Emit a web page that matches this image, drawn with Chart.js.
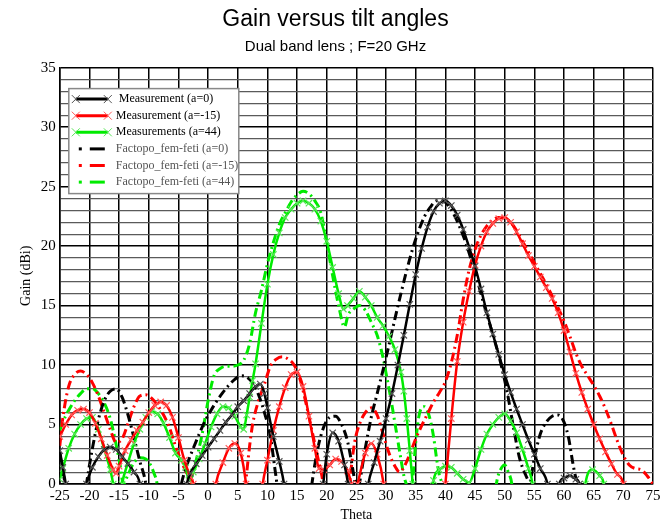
<!DOCTYPE html>
<html>
<head>
<meta charset="utf-8">
<script src="https://cdn.jsdelivr.net/npm/chart.js@4.4.1/dist/chart.umd.min.js"></script>
<style>
  body { margin: 0; background: #fff; }
</style>
</head>
<body>
<canvas id="chart" width="669" height="520"></canvas>
<script>
// Values (theta in degrees, gain in dBi).
// Negative gains just push the curve under the axis, where it gets clipped.

const measA0Theta = [-25, -24.5, -24, -23.3, -21.5, -20.5, -19.5, -18.5, -17.5, -16.5, -15.5, -14.5, -13.5, -12.5, -11.5, -10.8,
  -4.6, -3.6, -3, -2, -1, 0, 1, 2, 3, 4, 5, 6, 7, 8, 8.8, 9.5, 10, 11, 12, 12.8, 13.5,
  18.5, 19.4, 20, 21, 22, 23, 23.6, 24.3,
  26.2, 27, 28, 29, 30, 31, 32, 33, 34, 35, 36, 37, 38, 39, 40, 41, 42, 43, 44, 45, 46, 47, 48, 49, 50, 51, 52, 53, 54, 55, 56, 57.2, 58,
  58.5, 59.2, 60, 61, 62, 62.6, 63.3];
const measA0Gain = [2.8, 1.4, 0, -3, -3, 0, 1.4, 2.3, 2.9, 3.1, 2.9, 2.3, 1.7, 1.0, 0, -3,
  -3, 0, 0.9, 1.7, 2.4, 3.1, 3.8, 4.5, 5.2, 5.8, 6.5, 7.0, 7.6, 8.2, 8.4, 7.6, 6.4, 4.0, 1.9, 0, -3,
  -3, 0, 2.5, 4.3, 3.6, 1.6, 0, -3,
  -3, 0, 1.8, 3.6, 5.5, 7.6, 10, 12.5, 15.1, 17.6, 19.8, 21.6, 22.9, 23.6, 23.8, 23.4, 22.6, 21.4, 19.9, 18.3, 16.4, 14.4, 12.6, 10.9, 9.2, 7.7, 6.3, 5.0, 3.7, 2.5, 1.3, 0, -3,
  -3, 0, 0.5, 0.7, 0.4, 0, -3];

const measAm15Theta = [-25, -24, -23, -22, -21, -20, -19, -18, -17, -16, -15.5, -15, -14, -13, -12, -11, -10, -9, -8, -7, -6, -5, -4, -3, -2.5, -2,
  0.5, 1.3, 2.5, 3.5, 4.5, 5.5, 6.4, 7,
  8.5, 9.2, 10, 11, 12, 13, 14, 15, 16, 17, 18, 18.7, 19.5, 20.5, 21.5, 22.5, 23.5, 24.2, 24.7, 25.2, 26.5, 27.5, 28.5, 29.6, 30.2,
  39.4, 40, 41, 42, 43, 44, 45, 46, 47, 48, 49, 50, 51, 52, 53, 54, 55, 56, 57, 58, 59, 60, 61, 62, 63, 64, 65, 66, 67, 68, 69, 70, 70.5];
const measAm15Gain = [4.0, 5.0, 5.8, 6.2, 6.3, 6.0, 5.1, 3.8, 2.4, 1.2, 0.9, 1.5, 2.8, 3.7, 4.5, 5.2, 6.0, 6.6, 6.9, 6.6, 5.6, 3.9, 2.0, 0.6, 0, -3,
  -3, 0, 1.8, 3.0, 3.4, 2.6, 0, -3,
  -3, 0, 2, 4.5, 6.5, 8.1, 9.2, 9.4, 8.2, 5.7, 3, 1.3, 1.2, 1.6, 2.1, 1.9, 1.1, 0, -1, 0, 2.6, 3.4, 2.5, 0, -3,
  -3, 0, 5.5, 10.3, 13.6, 16.2, 18.4, 20, 21.2, 21.9, 22.3, 22.4, 22, 21.2, 20.2, 19.2, 18.3, 17.4, 16.5, 15.6, 14.4, 12.9, 11.1, 9.3, 7.7, 6.3, 5, 3.8, 2.7, 1.7, 0.8, 0, -3];

const measA44Theta = [-25, -24.5, -23.5, -22.5, -21.5, -20.5, -19.5, -18.5, -17.5, -16.5, -16, -15.5, -15, -14.5, -13.5, -12.5, -11.5, -10.5, -9.5, -8.5, -7.5, -6.5, -5.5, -4.5, -3.8, -3.2,
  -2.5, -1.5, -0.5, 0.5, 1.5, 2.5, 3.5, 4.5, 5.5, 6, 6.5, 7, 7.5, 8, 9, 10, 11, 12, 13, 14, 15, 16, 17, 18, 19, 20, 21, 22, 22.8,
  23.5, 24.5, 25.5, 26.5, 27.5, 28.5, 29.5, 30.5, 31.5, 32.5, 33, 33.5, 34, 34.5, 35,
  37.4, 38, 39, 40, 41, 42, 43, 44, 45, 46, 47, 48, 49, 50, 51, 52, 53, 54, 54.7, 55.3,
  63, 63.6, 64.8, 66, 66.7, 67.3];
const measA44Gain = [0.4, 1.3, 3, 4.2, 5, 5.5, 5.6, 4.6, 2.9, 1.2, 0, -2, -2, 0, 1.8, 3.4, 4.6, 5.6, 6.1, 5.9, 5.1, 3.9, 2.6, 2.0, 1.4, 0.3,
  1.0, 2.1, 3.4, 4.8, 5.9, 6.5, 6.4, 5.7, 4.8, 4.6, 5.8, 7.3, 8.7, 10.1, 13.5, 16.8, 19.3, 21.1, 22.4, 23.1, 23.6, 23.8, 23.6, 23.1, 22.1, 20.4, 18.2, 16, 14.7,
  15, 15.6, 16.2, 15.7, 15, 14, 13.3, 12.4, 11.3, 9.4, 7.8, 5.5, 2.8, 0, -3,
  -3, 0.3, 1.2, 1.5, 1.4, 0.9, 0.4, 0.1, 1.3, 2.9, 4.2, 5, 5.6, 5.9, 5.3, 4.3, 2.9, 1.3, 0, -3,
  -3, 0, 1.2, 0.7, 0, -3];

const factA0Theta = [-25, -24.5, -24.1, -23.5, -21.3, -20.5, -19.5, -18.5, -17.5, -16.5, -15.5, -14.5, -13.5, -12.5, -11.5, -10.5, -9.8,
  -5.5, -4.5, -3.5, -2.5, -1.5, -0.5, 0.5, 1.5, 2.5, 3.5, 4.5, 5.5, 6.5, 7.5, 8.5, 9.5, 10.5, 11.2, 11.6, 12.2,
  16.8, 17.5, 18.5, 19.5, 20.5, 21.5, 22.5, 23.5, 24.3, 24.8, 25.1,
  25.5, 26.5, 27.5, 28.5, 29.5, 30.5, 31.5, 32.5, 33.5, 34.5, 35.5, 36.5, 37.5, 38.5, 39.5, 40.5, 41.5, 42.5, 43.5, 44.5, 45.5, 46.5, 47.5, 48.5, 49.5, 50.5, 51.5, 52.5, 53.5, 54.2,
  55, 56, 57, 58, 59, 60, 60.8, 61.4, 62, 62.4, 63];
const factA0Gain = [2.6, 1, 0, -3, -3, 0, 3, 5.4, 7, 7.8, 8, 7.3, 5.8, 3.9, 1.9, 0, -3,
  -3, 0, 1.7, 3, 4.2, 5.3, 6.2, 7, 7.7, 8.3, 8.8, 9.1, 9.0, 8.5, 7.5, 6.0, 4.0, 1.5, 0, -3,
  -3, 0, 3, 4.8, 5.6, 5.7, 5.0, 3.6, 1.5, 0, -1,
  0, 3, 5.6, 7.6, 9.6, 11.7, 13.9, 16, 18, 19.8, 21.3, 22.5, 23.3, 23.8, 23.8, 23.4, 22.6, 21.5, 20.2, 18.6, 16.9, 15.1, 13.4, 11.7, 9.8, 7.5, 4.7, 2.2, 0.8, 0.2,
  2.2, 4.2, 5.2, 5.7, 5.8, 5.2, 3.8, 2, 0.5, 0, -3];

const factAm15Theta = [-25, -24.5, -23.5, -22.5, -21.5, -20.5, -19.5, -18.5, -17.5, -16.5, -15.5, -14.5, -13.5, -12.5, -11.5, -10.5, -9.5, -8.5, -7.5, -6.5, -5.5, -4.5, -3.5, -2.8, -2.2,
  5.5, 6.3, 7, 7.5, 8.5, 9.5, 10.5, 11.5, 12.5, 13.5, 14.5, 15.5, 16.5, 17.5, 18.5, 19.4, 20,
  23, 23.8, 24.7, 25.5, 26.5, 27.5, 28.5, 29.5, 30.5, 31.5, 32.3, 33, 34, 35, 36, 37, 38, 39, 40, 41, 42, 43, 44, 45, 46, 47, 48, 49, 50,
  51, 52, 53, 54, 55, 56, 57, 58, 59, 60, 61, 62, 63, 64, 65, 66, 67, 68, 69, 70, 71, 72, 73, 74, 75];
const factAm15Gain = [3.2, 5.5, 8.2, 9.2, 9.5, 9.2, 8.5, 7.4, 6, 4.6, 3.5, 3.8, 5.1, 6.5, 7.4, 7.5, 7.2, 6.6, 5.8, 4.7, 3.2, 1.9, 0.8, 0, -3,
  -3, 0, 3.2, 5, 7, 8.4, 9.9, 10.5, 10.7, 10.5, 10, 8.8, 6.8, 4.5, 2.2, 0, -3,
  -3, 0, 3.5, 5, 6, 6.4, 5.8, 4.2, 2.6, 1.5, 1, 1.4, 2.5, 3.8, 4.9, 5.9, 6.9, 7.7, 8.6, 10.2, 12.5, 15.5, 18, 19.7, 20.9, 21.7, 22.2, 22.4, 22.3,
  22, 21.3, 20.4, 19.5, 18.6, 17.7, 16.8, 15.8, 14.8, 13.7, 12.4, 11, 9.9, 9.1, 8.3, 7.4, 6.3, 5, 3.6, 2.4, 1.6, 1.3, 1.2, 0.7, 0];

const factA44Theta = [-25, -24.5, -23.5, -22.5, -21.5, -20.5, -19.5, -18.5, -17.5, -16.5, -15.5, -14.8, -14.3,
  -13.5, -12.5, -11.5, -10.5, -9.7, -9.2, -8.6, -8,
  -3.8, -3, -2, -1, 0, 1, 2, 3, 4, 5, 6, 7, 8, 9, 10, 11, 12, 13, 14, 15, 16, 17, 18, 19, 20, 21, 22, 23,
  23.6, 24.5, 25.5, 26.5, 27.5, 28.5, 29.5, 30, 30.5, 31, 31.5, 32, 32.5, 33, 33.4, 34,
  34.5, 35, 35.5, 36, 36.5, 37, 37.5, 38, 38.5, 39, 39.4, 40,
  48, 48.6, 49.3, 50, 50.6, 51.2, 51.8];
const factA44Gain = [4.5, 5.2, 6.2, 7, 7.6, 8.0, 8.0, 7.6, 6.8, 5.5, 3.3, 1.5, 0,
  0.8, 1.8, 2.2, 2.1, 1.6, 1, 0, -3,
  -3, 0, 2, 4.2, 7, 9.1, 9.7, 9.9, 9.9, 10.0, 10.4, 11.8, 14.4, 16.3, 18.5, 20.3, 21.8, 22.8, 23.7, 24.3, 24.6, 24.4, 23.8, 22.8, 20.3, 17.5, 15, 13.2,
  14.2, 14.7, 15, 14.6, 13.6, 12.5, 10.6, 9.3, 8, 6.6, 5.1, 3.6, 2.1, 0.7, 0, -1,
  0.5, 3.5, 5.6, 6.4, 6.5, 6.1, 5.3, 4.0, 2.2, 0.7, 0, -3,
  -3, 0, 1.2, 1.6, 1, 0, -3];

const seriesLabels = ['Measurement (a=0)', 'Measurement (a=-15)', 'Measurements (a=44)',
  'Factopo_fem-feti (a=0)', 'Factopo_fem-feti (a=-15)', 'Factopo_fem-feti (a=44)'];

const BLACK = '#000000', RED = '#ff0000', GREEN = 'rgb(0,235,0)';
const DASHDOT = [9, 4, 2, 4];

function pts(t, g) {
  return t.map(function (v, i) { return { x: v, y: g[i] }; });
}

function measSet(label, t, g, color, markColor) {
  return {
    label: label,
    data: pts(t, g),
    borderColor: color,
    backgroundColor: color,
    borderWidth: 2.5,
    pointStyle: 'crossRot',
    pointRadius: 4.5,
    pointBorderWidth: 1.2,
    pointBorderColor: markColor,
    cubicInterpolationMode: 'monotone',
    kind: 'meas'
  };
}

function factSet(label, t, g, color) {
  return {
    label: label,
    data: pts(t, g),
    borderColor: color,
    backgroundColor: color,
    borderWidth: 3,
    borderDash: DASHDOT,
    pointRadius: 0,
    cubicInterpolationMode: 'monotone',
    kind: 'fact'
  };
}

const datasets = [
  measSet(seriesLabels[0], measA0Theta, measA0Gain, BLACK, '#555'),
  measSet(seriesLabels[1], measAm15Theta, measAm15Gain, RED, '#ff5a5a'),
  measSet(seriesLabels[2], measA44Theta, measA44Gain, GREEN, '#5ae65a'),
  factSet(seriesLabels[3], factA0Theta, factA0Gain, BLACK),
  factSet(seriesLabels[4], factAm15Theta, factAm15Gain, RED),
  factSet(seriesLabels[5], factA44Theta, factA44Gain, GREEN)
];

// legend box inside the plot, upper left
const legendBox = {
  id: 'legendBox',
  afterDraw(chart) {
    const c = chart.ctx, a = chart.chartArea;
    const x0 = a.left + 9, y0 = a.top + 21, w = 170, h = 105;
    c.save();
    c.fillStyle = '#fff';
    c.fillRect(x0, y0, w, h);
    c.strokeStyle = '#888';
    c.lineWidth = 1.5;
    c.strokeRect(x0, y0, w, h);
    c.font = '12px "Liberation Serif", serif';
    c.textBaseline = 'middle';
    chart.data.datasets.forEach(function (ds, i) {
      const y = y0 + 10.5 + i * 16.6;
      c.strokeStyle = ds.borderColor;
      c.fillStyle = ds.borderColor;
      if (ds.kind === 'meas') {
        c.lineWidth = 3;
        c.beginPath(); c.moveTo(x0 + 7, y); c.lineTo(x0 + 39, y); c.stroke();
        c.lineWidth = 1;
        c.strokeStyle = ds.pointBorderColor;
        [x0 + 7, x0 + 39].forEach(function (px) {
          c.beginPath();
          c.moveTo(px - 4, y - 4); c.lineTo(px + 4, y + 4);
          c.moveTo(px - 4, y + 4); c.lineTo(px + 4, y - 4);
          c.stroke();
        });
        c.fillStyle = '#000';
      } else {
        c.fillRect(x0 + 10, y - 1.5, 3, 3);
        c.fillRect(x0 + 21, y - 1.5, 15, 3);
        c.fillStyle = '#555';
      }
      c.fillText((i === 0 ? ' ' : '') + ds.label, x0 + 47, y);
    });
    c.restore();
  }
};

const serif = '"Liberation Serif", "Times New Roman", serif';

const ctx = document.getElementById('chart');

new Chart(ctx, {
  type: 'line',
  data: { datasets: datasets },
  plugins: [legendBox],
  options: {
    responsive: false,
    animation: false,
    layout: { padding: { left: 18, right: 16, top: 0, bottom: -2 } },
    plugins: {
      legend: { display: false },
      tooltip: { enabled: false },
      title: {
        display: true,
        text: 'Gain versus tilt angles',
        color: '#000',
        font: { family: '"Liberation Sans", Arial, sans-serif', size: 23, weight: 'normal' },
        padding: { top: 6, bottom: 4 }
      },
      subtitle: {
        display: true,
        text: 'Dual band lens ; F=20 GHz',
        color: '#000',
        font: { family: '"Liberation Sans", Arial, sans-serif', size: 15 },
        padding: { top: 0, bottom: 12 }
      }
    },
    scales: {
      x: {
        type: 'linear',
        min: -25,
        max: 75,
        ticks: {
          stepSize: 5,
          color: '#000',
          font: { family: serif, size: 15 },
          padding: 3,
          maxRotation: 0,
          autoSkip: false
        },
        grid: { color: '#000', lineWidth: 1.5, drawTicks: false },
        border: { color: '#000', width: 1.5 },
        title: {
          display: true,
          text: 'Theta',
          color: '#000',
          font: { family: serif, size: 14, lineHeight: 1 },
          padding: { top: 0, bottom: 0 }
        }
      },
      y: {
        min: 0,
        max: 35,
        ticks: {
          stepSize: 1,
          autoSkip: false,
          color: '#000',
          font: { family: serif, size: 15 },
          padding: 4,
          callback: function (v) { return v % 5 === 0 ? v : ''; }
        },
        grid: {
          drawTicks: false,
          color: function (c) { return c.tick && c.tick.value % 5 === 0 ? '#000' : '#5a5a5a'; },
          lineWidth: function (c) { return c.tick && c.tick.value % 5 === 0 ? 1.5 : 1.2; }
        },
        border: { color: '#000', width: 1.5 },
        title: {
          display: true,
          text: 'Gain (dBi)',
          color: '#000',
          font: { family: serif, size: 14 },
          padding: { top: 0, bottom: 2 }
        }
      }
    }
  }
});
</script>
</body>
</html>
